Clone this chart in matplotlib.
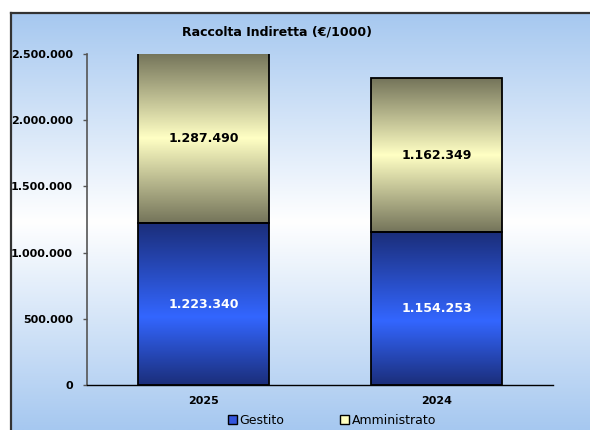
import numpy as np
import matplotlib
matplotlib.use("Agg")
import matplotlib.pyplot as plt
from matplotlib.colors import LinearSegmentedColormap
from matplotlib.lines import Line2D
from matplotlib.patches import Patch

years = ["2025", "2024"]
gestito = [1223340, 1154253]
amministrato = [1287490, 1162349]
yticks = [0, 500000, 1000000, 1500000, 2000000, 2500000]
title = "Raccolta Indiretta (€/1000)"

plt.rcParams["font.family"] = "DejaVu Sans"

W, H = 590, 430
fig = plt.figure(figsize=(W / 100, H / 100), dpi=100)
fig.patch.set_facecolor("white")

# light blue -> white -> light blue background inside the frame
bg = fig.add_axes([11 / W, 0, 1 - 11 / W, 1 - 13 / H], zorder=0)
bg_cmap = LinearSegmentedColormap.from_list(
    "bg", ["#A6C8F0", "#FFFFFF", "#A6C8F0"]
)
bg.imshow(np.linspace(0, 1, 256).reshape(-1, 1), cmap=bg_cmap, aspect="auto",
          extent=[0, 1, 0, 1])
bg.set_axis_off()
fig.add_artist(Line2D([11 / W, 11 / W], [0, 1 - 13 / H], color="#333333",
                      lw=1.6, transform=fig.transFigure))
fig.add_artist(Line2D([11 / W, 1], [1 - 13 / H, 1 - 13 / H], color="#333333",
                      lw=1.6, transform=fig.transFigure))

ax = fig.add_axes([87 / W, 1 - 385 / H, (553 - 87) / W, (385 - 54) / H], zorder=1)
ax.patch.set_alpha(0)

blue_cmap = LinearSegmentedColormap.from_list(
    "blue", [(0, "#1B2E7A"), (0.42, "#3366FF"), (1, "#1B2E7A")])
khaki_cmap = LinearSegmentedColormap.from_list(
    "khaki", [(0, "#74745A"), (0.5, "#FFFFC4"), (1, "#74745A")])

ymax = yticks[-1]
width = 0.56
x = np.arange(len(years))
grad = np.linspace(0, 1, 256).reshape(-1, 1)[::-1]


def gradient_bar(xc, bottom, height, cmap):
    top = min(bottom + height, ymax)
    ax.imshow(grad, cmap=cmap, aspect="auto", zorder=2,
              extent=[xc - width / 2, xc + width / 2, bottom, top])
    ax.bar(xc, height, width, bottom=bottom, facecolor="none",
           edgecolor="black", linewidth=1.3, zorder=3)
    return (bottom + top) / 2


def fmt(v):
    return f"{v:,.0f}".replace(",", ".")


for i in range(len(years)):
    yc = gradient_bar(x[i], 0, gestito[i], blue_cmap)
    ax.text(x[i], yc, fmt(gestito[i]), ha="center", va="center", color="white",
            fontsize=9, fontweight="bold", zorder=4)
    yc = gradient_bar(x[i], gestito[i], amministrato[i], khaki_cmap)
    ax.text(x[i], yc, fmt(amministrato[i]), ha="center", va="center",
            color="black", fontsize=9, fontweight="bold", zorder=4)

ax.set_xlim(-0.5, 1.5)
ax.set_ylim(0, ymax)
ax.set_yticks(yticks)
ax.set_yticklabels([fmt(v) for v in yticks], fontsize=8, fontweight="bold")
ax.set_xticks(x)
ax.set_xticklabels(years, fontsize=8, fontweight="bold")
ax.tick_params(axis="x", length=0, pad=8)
ax.tick_params(axis="y", length=3, width=1, color="#555555", pad=7)
for s in ["top", "right"]:
    ax.spines[s].set_visible(False)
ax.spines["left"].set_color("#555555")
ax.spines["left"].set_linewidth(1.2)
ax.spines["bottom"].set_color("black")
ax.spines["bottom"].set_linewidth(1.0)

fig.text(277 / W, 1 - 32 / H, title, ha="center", va="center",
         fontsize=9, fontweight="bold")

handles = [Patch(facecolor="#3355DD", edgecolor="black", lw=1),
           Patch(facecolor="#FFFFC0", edgecolor="black", lw=1)]
fig.legend(handles, ["Gestito", "Amministrato"], loc="center",
           bbox_to_anchor=(332 / W, 1 - 420 / H), ncol=2, frameon=False,
           fontsize=9, handlelength=0.7, handleheight=0.7, handletextpad=0.2,
           columnspacing=4.5, borderpad=0)

fig.savefig("out.png", dpi=100)
